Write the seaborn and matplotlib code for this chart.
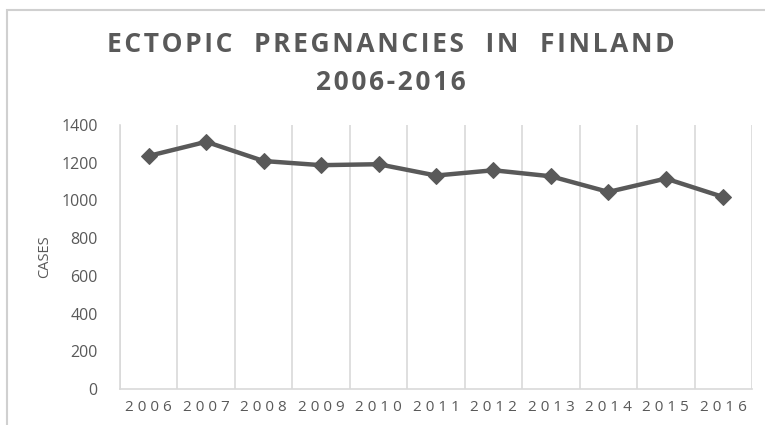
import matplotlib
matplotlib.use("Agg")
import matplotlib.pyplot as plt
import seaborn as sns
import pandas as pd
from matplotlib.patches import Rectangle
from matplotlib.ticker import FixedLocator

years = ["2006", "2007", "2008", "2009", "2010", "2011", "2012", "2013", "2014", "2015", "2016"]
cases = [1236, 1311, 1209, 1187, 1192, 1132, 1160, 1128, 1045, 1116, 1018]
y_ticks = [0, 200, 400, 600, 800, 1000, 1200, 1400]
title_lines = ["ECTOPIC  PREGNANCIES  IN  FINLAND", "2006-2016"]
y_label = "CASES"

sns.set_theme(style="white")
plt.rcParams["font.family"] = ["Open Sans", "DejaVu Sans"]

df = pd.DataFrame({"pos": range(len(years)), "year": years, "cases": cases})

fig = plt.figure(figsize=(7.65, 4.25), dpi=100)
ax = fig.add_axes([120 / 765, 1 - 389 / 425, (752 - 120) / 765, (389 - 125) / 425])

grey = "#595959"
grid = "#d9d9d9"

sns.lineplot(data=df, x="pos", y="cases", ax=ax, color=grey, linewidth=3.2,
             marker="D", markersize=8, markeredgecolor=grey, markerfacecolor=grey)

ax.set_xlim(-0.5, len(years) - 0.5)
ax.set_ylim(0, 1400)
ax.set_yticks(y_ticks)
ax.set_yticklabels([str(v) for v in y_ticks], color=grey, fontsize=11.5)

ax.set_xticks(df["pos"])
sp = "\u2009\u200a"
ax.set_xticklabels([sp.join(list(y)) for y in years], color=grey, fontsize=11)
ax.xaxis.set_minor_locator(FixedLocator([i + 0.5 for i in range(-1, len(years))]))
ax.grid(False)
ax.grid(True, which="minor", axis="x", color=grid, linewidth=1.2)
ax.tick_params(axis="both", which="both", length=0)
ax.tick_params(axis="y", pad=16)
ax.tick_params(axis="x", pad=8)

for s in ["top", "right"]:
    ax.spines[s].set_visible(False)
for s in ["left", "bottom"]:
    ax.spines[s].set_color(grid)
    ax.spines[s].set_linewidth(1.2)

ax.set_xlabel("")
ax.set_ylabel(y_label, color=grey, fontsize=10.5)
ax.yaxis.set_label_coords(-(120 - 52) / 632, 0.5)

tsp = "\u200a"
fig.text(391 / 765, 1 - 45 / 425, tsp.join(list(title_lines[0])), ha="center", va="center",
         fontsize=19, fontweight="bold", color=grey)
fig.text(391 / 765, 1 - 83 / 425, tsp.join(list(title_lines[1])), ha="center", va="center",
         fontsize=19, fontweight="bold", color=grey)

fig.add_artist(Rectangle((7 / 765, -0.5), 2, (425 - 10) / 425 + 0.5,
                         transform=fig.transFigure, fill=False,
                         edgecolor="#d0d0d0", linewidth=1.5))

fig.savefig("out.png", dpi=100)
